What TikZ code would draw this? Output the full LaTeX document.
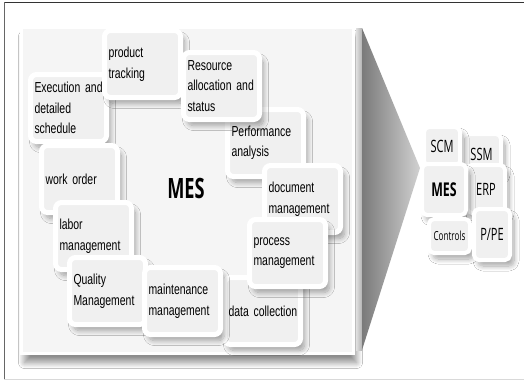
\documentclass[tikz,border=0pt]{standalone}
\usepackage{fontspec}
\setmainfont{Liberation Sans}[FakeStretch=0.72]
\newfontfamily\narrowfont{Open Sans}[FakeStretch=0.65]
\usetikzlibrary{calc,shadows.blur}

\begin{document}
\begin{tikzpicture}[x=1pt,y=-1pt,
    item/.style={anchor=north west,rectangle,rounded corners=6pt,fill=black!6,draw=white,line width=5pt,text width=68pt,inner xsep=4pt,minimum height=67pt,align=left,font={\fontsize{14.5}{20.5}\selectfont},blur shadow={shadow xshift=4pt,shadow yshift=-6pt,shadow blur radius=5pt,shadow blur steps=10,shadow opacity=35}},
    sys/.style={anchor=north west,rectangle,rounded corners=5pt,fill=black!6,draw=white,line width=4pt,inner sep=0pt,align=center,font={\narrowfont\fontsize{17}{19}\selectfont},blur shadow={shadow xshift=4pt,shadow yshift=-6pt,shadow blur radius=5pt,shadow blur steps=10,shadow opacity=35}}]
                \useasboundingbox (0,0) rectangle (524,383);
                \fill[white] (0,0) rectangle (524,383);
                \draw[black!80] (4,2) -- (524,2);
                \draw[black!60] (4,2) -- (4,379);
                \draw[black!15] (4,379) -- (524,379);

                \node[anchor=north west,rectangle,fill=black!4,draw=white,line width=3pt,minimum width=332pt,minimum height=326pt,blur shadow={shadow xshift=3pt,shadow yshift=-9pt,shadow blur radius=6pt,shadow blur steps=12,shadow opacity=45}] (panel) at (20,26) {};

                \shade[left color=black!12,right color=black!30] ($ (panel.north east) + (1,2) $) rectangle ($ (panel.south east) + (7,-5) $);
                \shade[left color=black!52,right color=black!18] ($ (panel.north east) + (7,2) $) -- (420,168) -- ($ (panel.south east) + (7,-5) $) -- cycle;

                \node[font={\narrowfont\bfseries\fontsize{28}{30}\selectfont}] (mes) at (186,188) {MES};

                \node[item] (execution) at ($ (panel.north west) + (8,46) $) {\mbox{Execution and}\\detailed\\schedule};
                \node[item] (tracking) at ($ (panel.north west) + (82,2) $) {product\\tracking};
                \node[item] (performance) at ($ (panel.north west) + (205,81) $) {Performance\\analysis};
                \node[item] (resource) at ($ (panel.north west) + (161,24) $) {Resource\\\mbox{allocation and}\\status};
                \node[item] (document) at ($ (panel.north west) + (242,137) $) {document\\management};
                \node[item] (collection) at ($ (panel.north west) + (202,249) $) {\mbox{data collection}};
                \node[item] (process) at ($ (panel.north west) + (227,191) $) {process\\management};
                \node[item] (workorder) at ($ (panel.north west) + (19,117) $) {\mbox{work order}};
                \node[item] (labor) at ($ (panel.north west) + (33,174) $) {labor\\management};
                \node[item] (quality) at ($ (panel.north west) + (47,229) $) {Quality\\Management};
                \node[item] (maintenance) at ($ (panel.north west) + (122,239) $) {maintenance\\management};

                \coordinate (stack) at (422,125);
                \node[sys,minimum width=39pt,minimum height=40pt] (ssm) at ($ (stack) + (38,7) $) {SSM};
                \node[sys,minimum width=36pt,minimum height=39pt] (scm) at (stack) {SCM};
                \node[sys,minimum width=38pt,minimum height=48pt] (erp) at ($ (stack) + (43,38) $) {ERP};
                \node[sys,minimum width=44pt,minimum height=51pt,font={\narrowfont\bfseries\fontsize{19}{21}\selectfont}] (mesbox) at ($ (stack) + (-2,37) $) {MES};
                \node[sys,minimum width=41pt,minimum height=34pt,font={\narrowfont\fontsize{12.5}{14}\selectfont}] (controls) at ($ (stack) + (5,92) $) {Controls};
                \node[sys,minimum width=36pt,minimum height=51pt] (ppe) at ($ (stack) + (50,82) $) {P/PE};
            \end{tikzpicture}
\end{document}
